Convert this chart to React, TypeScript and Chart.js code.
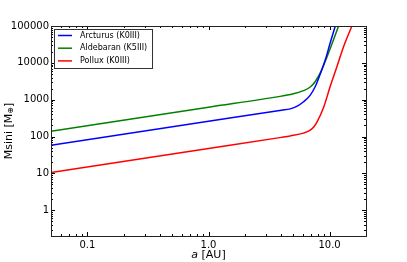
import React, { useEffect, useRef } from "react";
import { Chart, registerables } from "chart.js";
Chart.register(...registerables);

const seriesLabels = ["Arcturus (K0III)", "Aldebaran (K5III)", "Pollux (K0III)"];
const seriesColors = ["#0000ff", "#008000", "#ff0000"];

const arcturusA = [0.05, 1.0, 4.0, 4.73, 5.41, 6.1, 6.93, 7.62, 8.38, 9.21, 10.1, 11.15];
const arcturusM = [58, 260, 520, 564, 670, 877, 1334, 2280, 5000, 11900, 33900, 100000];

const aldebaranA = [0.05, 1.0, 4.0, 4.73, 6.1, 6.93, 7.62, 8.56, 9.52, 10.63, 11.87];
const aldebaranM = [140, 626, 1250, 1380, 1757, 2214, 3126, 6140, 14450, 37150, 100000];

const polluxA = [0.05, 1.0, 4.0, 4.73, 6.1, 6.93, 7.4, 7.87, 8.92, 10.1, 11.5, 13.05, 15.3];
const polluxM = [10.6, 47.5, 95, 104, 124, 149, 181, 246, 610, 2240, 7830, 27400, 100000];

const xMajorTicks = [0.1, 1, 10];
const xMajorLabels = ["0.1", "1.0", "10.0"];
const yMajorTicks = [1, 10, 100, 1000, 10000, 100000];
const yMajorLabels = ["1", "10", "100", "1000", "10000", "100000"];

const X_MIN = 0.05, X_MAX = 20, Y_MIN = 0.2, Y_MAX = 100000;

const FONT = "'DejaVu Sans', sans-serif";

function logTicks(min: number, max: number) {
  const out: { value: number; major: boolean }[] = [];
  for (let d = -3; d <= 6; d++) {
    for (let m = 1; m <= 9; m++) {
      const v = m * Math.pow(10, d);
      if (v >= min * 0.9999 && v <= max * 1.0001) out.push({ value: v, major: m === 1 });
    }
  }
  return out;
}

function labelFor(v: number, majors: number[], labels: string[]) {
  for (let i = 0; i < majors.length; i++) {
    if (Math.abs(v - majors[i]) / majors[i] < 1e-6) return labels[i];
  }
  return "";
}

const framePlugin = {
  id: "framePlugin",
  afterDatasetsDraw(chart: any) {
    const ctx = chart.ctx;
    const { left, right, top, bottom } = chart.chartArea;
    const xs = chart.scales.x;
    const ys = chart.scales.y;
    ctx.save();
    ctx.strokeStyle = "#000";
    ctx.lineWidth = 1;
    ctx.beginPath();
    for (const t of xs.ticks) {
      const px = Math.round(xs.getPixelForValue(t.value)) + 0.5;
      const len = t.major ? 4 : 2;
      ctx.moveTo(px, bottom);
      ctx.lineTo(px, bottom - len);
      ctx.moveTo(px, top);
      ctx.lineTo(px, top + len);
    }
    for (const t of ys.ticks) {
      const py = Math.round(ys.getPixelForValue(t.value)) + 0.5;
      const len = t.major ? 4 : 2;
      ctx.moveTo(left, py);
      ctx.lineTo(left + len, py);
      ctx.moveTo(right, py);
      ctx.lineTo(right - len, py);
    }
    ctx.stroke();
    ctx.strokeStyle = "#222";
    ctx.strokeRect(Math.round(left) + 0.5, Math.round(top) + 0.5, Math.round(right - left), Math.round(bottom - top));
    ctx.restore();
  },
  afterDraw(chart: any) {
    const ctx = chart.ctx;
    const { left, right, top, bottom } = chart.chartArea;
    ctx.save();
    // legend
    const lx = left + 3, ly = top + 3;
    ctx.fillStyle = "#fff";
    ctx.fillRect(lx + 0.5, ly + 0.5, 98, 39);
    ctx.strokeStyle = "#333";
    ctx.lineWidth = 1;
    ctx.strokeRect(lx + 0.5, ly + 0.5, 98, 39);
    ctx.font = `8px ${FONT}`;
    ctx.textBaseline = "middle";
    ctx.textAlign = "left";
    chart.data.datasets.forEach((ds: any, i: number) => {
      const yy = ly + 6.5 + i * 12.7;
      ctx.strokeStyle = ds.borderColor;
      ctx.lineWidth = 1.5;
      ctx.beginPath();
      ctx.moveTo(lx + 4, yy);
      ctx.lineTo(lx + 18, yy);
      ctx.stroke();
      ctx.fillStyle = "#000";
      ctx.fillText(ds.label, lx + 26, yy);
    });
    // x title
    ctx.fillStyle = "#000";
    ctx.textBaseline = "middle";
    const cx = (left + right) / 2;
    ctx.font = `italic 11px ${FONT}`;
    const aW = ctx.measureText("a").width;
    ctx.font = `11px ${FONT}`;
    const restW = ctx.measureText(" [AU]").width;
    const startX = cx - (aW + restW) / 2;
    ctx.font = `italic 11px ${FONT}`;
    ctx.textAlign = "left";
    ctx.fillText("a", startX, 255);
    ctx.font = `11px ${FONT}`;
    ctx.fillText(" [AU]", startX + aW, 255);
    // y title
    ctx.translate(9, (top + bottom) / 2);
    ctx.rotate(-Math.PI / 2);
    ctx.font = `11px ${FONT}`;
    const p1 = "Msini [M";
    const p3 = "]";
    const w1 = ctx.measureText(p1).width;
    const w3 = ctx.measureText(p3).width;
    ctx.font = `8px ${FONT}`;
    const w2 = ctx.measureText("⊕").width;
    const sx = -(w1 + w2 + w3) / 2;
    ctx.font = `11px ${FONT}`;
    ctx.fillText(p1, sx, 0);
    ctx.font = `8px ${FONT}`;
    ctx.fillText("⊕", sx + w1, 2);
    ctx.font = `11px ${FONT}`;
    ctx.fillText(p3, sx + w1 + w2, 0);
    ctx.restore();
  },
};

export default function App() {
  const ref = useRef<HTMLCanvasElement>(null);
  useEffect(() => {
    document.body.style.margin = "0";
    const mk = (a: number[], m: number[]) => a.map((x, i) => ({ x, y: m[i] }));
    const datasetsRaw = [mk(arcturusA, arcturusM), mk(aldebaranA, aldebaranM), mk(polluxA, polluxM)];
    const chart = new Chart(ref.current!, {
      type: "line",
      data: {
        datasets: datasetsRaw.map((d, i) => ({
          label: seriesLabels[i],
          data: d,
          borderColor: seriesColors[i],
          backgroundColor: seriesColors[i],
          borderWidth: 1.5,
          pointRadius: 0,
          cubicInterpolationMode: "monotone" as const,
          fill: false,
        })),
      },
      options: {
        animation: false,
        responsive: false,
        events: [],
        layout: { padding: { left: 0, top: 26, right: 41, bottom: 0 } },
        plugins: { legend: { display: false }, tooltip: { enabled: false } },
        scales: {
          x: {
            type: "logarithmic",
            min: X_MIN,
            max: X_MAX,
            grid: { display: false, drawTicks: false },
            border: { display: false },
            afterBuildTicks: (s: any) => {
              s.ticks = logTicks(X_MIN, X_MAX);
            },
            afterFit: (s: any) => {
              s.height = 26;
            },
            ticks: {
              autoSkip: false,
              maxRotation: 0,
              padding: 3,
              color: "#000",
              font: { family: FONT, size: 10 },
              callback: (v: any) => labelFor(Number(v), xMajorTicks, xMajorLabels),
            },
          },
          y: {
            type: "logarithmic",
            min: Y_MIN,
            max: Y_MAX,
            grid: { display: false, drawTicks: false },
            border: { display: false },
            afterBuildTicks: (s: any) => {
              s.ticks = logTicks(Y_MIN, Y_MAX);
            },
            afterFit: (s: any) => {
              s.width = 51;
            },
            ticks: {
              autoSkip: false,
              padding: 2,
              color: "#000",
              font: { family: FONT, size: 10 },
              callback: (v: any) => labelFor(Number(v), yMajorTicks, yMajorLabels),
            },
          },
        },
      },
      plugins: [framePlugin],
    } as any);
    return () => chart.destroy();
  }, []);
  return (
    <div style={{ width: 407, height: 262 }}>
      <canvas ref={ref} width={407} height={262} />
    </div>
  );
}
